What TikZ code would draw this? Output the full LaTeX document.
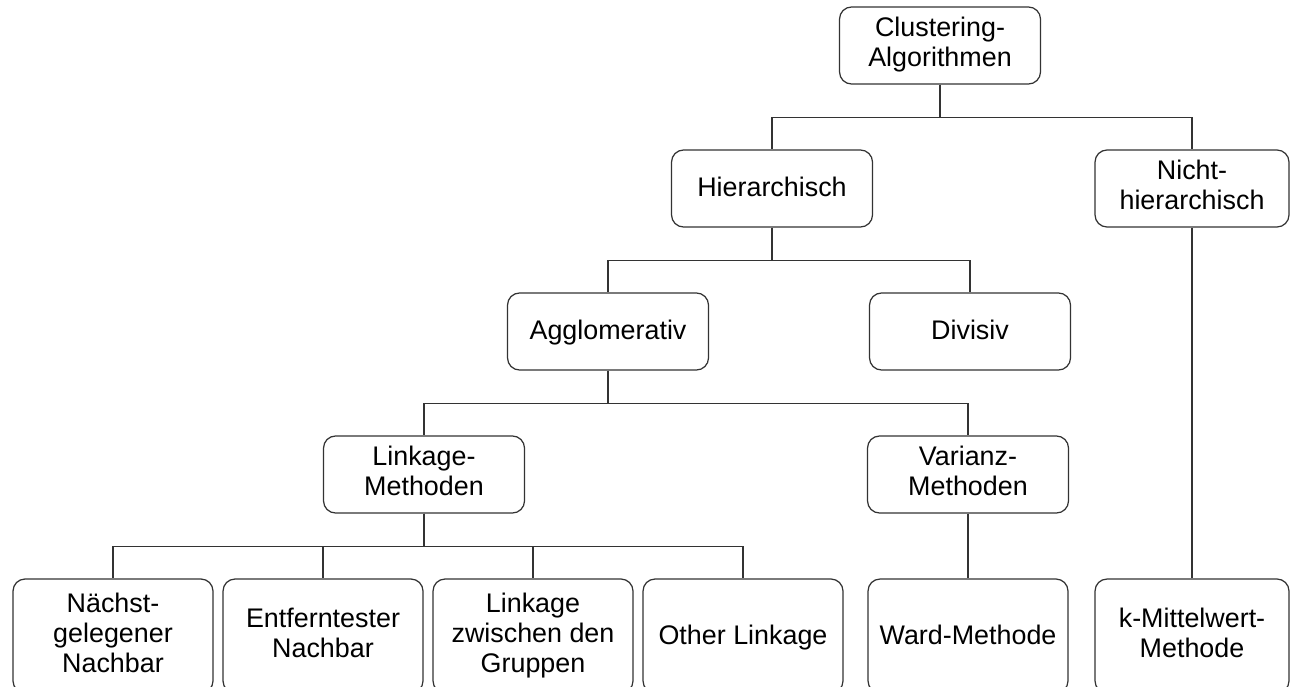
\documentclass[tikz,border=0pt]{standalone}
\usepackage{fontspec}
\setmainfont{Liberation Sans}

\newcommand{\nodestrut}{\rule[-3.8pt]{0pt}{17pt}}

\begin{document}
\begin{tikzpicture}[
    x=0.02cm, y=-0.02cm,
    every node/.style={rectangle, rounded corners=0.24cm, draw=black!80, line width=0.7pt, minimum width=4.02cm, minimum height=1.54cm, align=center, inner sep=2pt, font=\fontsize{15.3}{17}\selectfont, execute at begin node=\nodestrut, execute at end node=\nodestrut},
    leaf/.style={minimum width=4cm, minimum height=2.28cm},
    link/.style={draw=black!80, line width=0.7pt}
]
\useasboundingbox (0,0) rectangle (1290,686);

% ----- Ebene 0 -----
\node (clust) at (940,45.5) {Clustering-\\Algorithmen};

% ----- Ebene 1 -----
\node (hier)  at (772,188.5) {Hierarchisch};
\node[minimum width=3.88cm] (nicht) at (1192,188.5) {Nicht-\\hierarchisch};

% ----- Ebene 2 -----
\node (agglo) at (608,331.5) {Agglomerativ};
\node (divis) at (970,331.5) {Divisiv};

% ----- Ebene 3 -----
\node (linkm) at (424,474.5) {Linkage-\\Methoden};
\node (varim) at (968,474.5) {Varianz-\\Methoden};

% ----- Ebene 4 -----
\node[leaf] (naechst) at (113,636) {Nächst-\\gelegener\\Nachbar};
\node[leaf] (entf)    at (323,636) {Entferntester\\Nachbar};
\node[leaf] (zwisch)  at (533,636) {Linkage\\zwischen den\\Gruppen};
\node[leaf] (other)   at (743,636) {Other Linkage};
\node[leaf] (ward)    at (968,636) {Ward-Methode};
\node[leaf, minimum width=3.88cm] (kmittel) at (1192,636) {k-Mittelwert-\\Methode};

% ----- Kanten -----

\draw[link] (clust.south) -- ++(0,33) -| (hier.north);
\draw[link] (clust.south) -- ++(0,33) -| (nicht.north);

\draw[link] (hier.south) -- ++(0,33) -| (agglo.north);
\draw[link] (hier.south) -- ++(0,33) -| (divis.north);

\draw[link] (agglo.south) -- ++(0,33) -| (linkm.north);
\draw[link] (agglo.south) -- ++(0,33) -| (varim.north);

\draw[link] (linkm.south) -- ++(0,33) -| (naechst.north);
\draw[link] (linkm.south) -- ++(0,33) -| (entf.north);
\draw[link] (linkm.south) -- ++(0,33) -| (zwisch.north);
\draw[link] (linkm.south) -- ++(0,33) -| (other.north);

\draw[link] (varim) -- (ward);
\draw[link] (nicht) -- (kmittel);

\end{tikzpicture}
\end{document}
